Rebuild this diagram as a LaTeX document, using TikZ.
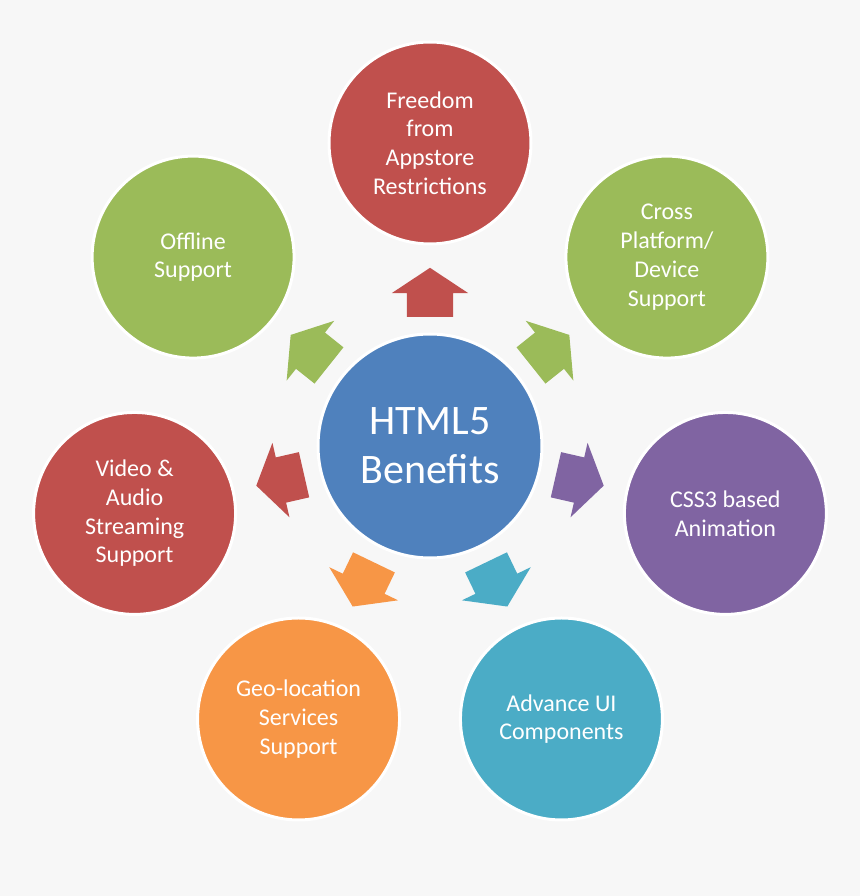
\documentclass[tikz,border=0pt]{standalone}
\usepackage{fontspec}
\setmainfont{Carlito}
\usepackage{tikz}
\usetikzlibrary{shapes.arrows}
\definecolor{colBg}{HTML}{F7F7F7}
\definecolor{colHub}{HTML}{4F81BD}
\definecolor{colRed}{HTML}{C0504D}
\definecolor{colGreen}{HTML}{9BBB59}
\definecolor{colPurple}{HTML}{8064A2}
\definecolor{colCyan}{HTML}{4BACC6}
\definecolor{colOrange}{HTML}{F79646}
\tikzset{
	benefit/.style={circle, draw=white, line width=3bp, fill=#1, minimum size=202bp, inner sep=0pt, align=center, text=white, font=\fontsize{24bp}{28.7bp}\selectfont},
	outarrow/.style={single arrow, draw=none, fill=#1, minimum height=49bp, inner xsep=0pt, inner ysep=23bp, single arrow head extend=15bp, single arrow tip angle=113},
}

\begin{document}
\begin{tikzpicture}[x=1bp, y=1bp]
	% Background
	\fill[colBg] (-430,-450) rectangle (430,446);
	\useasboundingbox (-430,-450) rectangle (430,446);

	% Hub
	\node[circle, draw=white, line width=3bp, fill=colHub, minimum size=224bp, inner sep=0pt, align=center, text=white, font=\fontsize{42bp}{49bp}\selectfont] (hub) at (0,0) {HTML5\\Benefits};

	% Benefits
	\node[benefit=colRed] (freedom) at (90:303) {Freedom\\from\\Appstore\\Restrictions};
	\node[benefit=colGreen] (cross) at (38.57:303) {Cross\\Platform/\\Device\\Support};
	\node[benefit=colPurple] (css) at (-12.86:303) {CSS3 based\\Animation};
	\node[benefit=colCyan] (advui) at (-64.29:303) {Advance UI\\Components};
	\node[benefit=colOrange] (geo) at (-115.71:303) {Geo-location\\Services\\Support};
	\node[benefit=colRed] (video) at (192.86:303) {Video \&\\Audio\\Streaming\\Support};
	\node[benefit=colGreen] (offline) at (141.43:303) {Offline\\Support};

	% Arrows
	\node[outarrow=colRed, rotate=90] (arrFreedom) at (90:146) {};
	\node[outarrow=colGreen, rotate=38.57] (arrCross) at (38.57:146) {};
	\node[outarrow=colPurple, rotate=-12.86] (arrCss) at (-12.86:146) {};
	\node[outarrow=colCyan, rotate=-64.29] (arrAdvui) at (-64.29:146) {};
	\node[outarrow=colOrange, rotate=-115.71] (arrGeo) at (-115.71:146) {};
	\node[outarrow=colRed, rotate=192.86] (arrVideo) at (192.86:146) {};
	\node[outarrow=colGreen, rotate=141.43] (arrOffline) at (141.43:146) {};
\end{tikzpicture}
\end{document}
